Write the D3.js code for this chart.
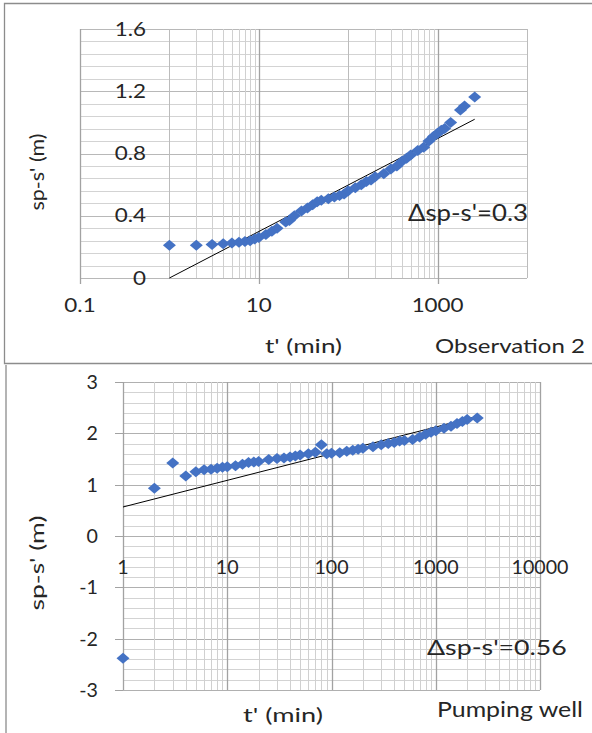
<!DOCTYPE html>
<html><head><meta charset="utf-8">
<script src="https://cdn.jsdelivr.net/npm/d3@7/dist/d3.min.js"></script>
<style>
html,body{margin:0;padding:0;background:#fff;}
svg{display:block;}
text{font-family:Lato,"Open Sans",sans-serif;fill:#262626;}
</style>
</head><body>
<svg id="c" width="592" height="733"></svg>
<script>
// ---------- Observation 2 (top) ----------
const obsTimes  = [1,2,3,4,5,6,7,8,9,10,12,14,16,20,22,25,30,35,40,45,50,60,70,80,90,100,120,140,160,180,200,250,300,350,400,450,500,600,700,800,900,1000,1100,1200,1400,1800,2000,2600];
const obsValues = [0.21,0.21,0.215,0.22,0.225,0.23,0.235,0.24,0.25,0.26,0.28,0.30,0.32,0.36,0.37,0.40,0.43,0.45,0.47,0.49,0.50,0.51,0.52,0.53,0.54,0.56,0.58,0.60,0.62,0.63,0.65,0.67,0.70,0.72,0.75,0.77,0.79,0.82,0.84,0.88,0.91,0.93,0.95,0.96,1.00,1.08,1.105,1.163];
const obsTrendTimes  = [1, 2600];
const obsTrendValues = [0, 1.02];
const obsXTickLabels = ["0.1","10","1000"];
const obsYTickLabels = ["0","0.4","0.8","1.2","1.6"];
const obsNote = "\u0394sp-s'=0.3";
const obsName = "Observation 2";

// ---------- Pumping well (bottom) ----------
const pumpTimes  = [1,2,3,4,5,6,7,8,9,10,12,14,16,18,20,25,30,35,40,45,50,60,70,80,90,100,120,140,160,180,200,250,300,350,400,450,500,600,700,800,900,1000,1200,1400,1600,1800,2000,2500];
const pumpValues = [-2.38,0.93,1.42,1.17,1.25,1.29,1.30,1.32,1.34,1.35,1.37,1.40,1.43,1.44,1.45,1.49,1.51,1.52,1.54,1.56,1.58,1.60,1.63,1.78,1.60,1.61,1.62,1.65,1.67,1.69,1.71,1.74,1.78,1.80,1.82,1.85,1.86,1.88,1.93,1.98,2.02,2.05,2.10,2.14,2.19,2.23,2.27,2.30];
const pumpTrendTimes  = [1, 2500];
const pumpTrendValues = [0.565, 2.33];
const pumpXTickLabels = ["1","10","100","1000","10000"];
const pumpYTickLabels = ["-3","-2","-1","0","1","2","3"];
const pumpNote = "\u0394sp-s'=0.56";
const pumpName = "Pumping well";

const xTitle = "t' (min)";
const yTitle = "sp-s'  (m)";

const svg = d3.select("#c");
const BLUE = "#4472C4";

// helpers
function txt(g, s, size, anchor){
  return g.append("text").text(s).attr("font-size", size).attr("text-anchor", anchor||"start");
}
function fitScale(t, target){ return target / t.node().getComputedTextLength(); }
function place(t, x, y, sx, rot){
  t.attr("transform", `translate(${x},${y})${rot ? " rotate(-90)" : ""} scale(${sx},1)`);
}
function diamond(w, h){ return `M0,${-h}L${w},0L0,${h}L${-w},0Z`; }

function drawPanel(c){
  const g = svg.append("g");
  const x = d3.scaleLog().domain(c.xDomain).range(c.xRange);
  const y = d3.scaleLinear().domain(c.yDomain).range(c.yRange);
  const [x0, x1] = c.xRange, [y0, y1] = c.yRange; // y0 bottom, y1 top
  const cr = v => Math.round(v) + 0.5;

  // horizontal gridlines
  const hVals = d3.range(c.yDomain[0], c.yDomain[1] + c.yMinor/2, c.yMinor);
  g.selectAll(null).data(hVals).enter().append("line")
    .attr("x1", x0).attr("x2", x1)
    .attr("y1", d => cr(y(d))).attr("y2", d => cr(y(d)))
    .attr("stroke", d => c.yLabelVals.some(v => Math.abs(v - d) < 1e-6) ? c.hMajorColor : "#d3d3d3")
    .attr("stroke-width", 1);

  // vertical minor gridlines
  g.selectAll(null).data(c.vMinor).enter().append("line")
    .attr("x1", d => cr(x(d))).attr("x2", d => cr(x(d)))
    .attr("y1", y1).attr("y2", y0)
    .attr("stroke", "#d0d0d0").attr("stroke-width", 1);
  // vertical decade gridlines
  g.selectAll(null).data(c.vDecade).enter().append("line")
    .attr("x1", d => cr(x(d))).attr("x2", d => cr(x(d)))
    .attr("y1", y1).attr("y2", y0)
    .attr("stroke", d => c.xLabelVals.includes(d) ? "#a2a2a2" : "#bcbcbc")
    .attr("stroke-width", d => c.xLabelVals.includes(d) ? 1.3 : 1);

  // tick marks
  if (c.xTickMarks){
    g.selectAll(null).data(c.xLabelVals).enter().append("line")
      .attr("x1", d => cr(x(d))).attr("x2", d => cr(x(d)))
      .attr("y1", y(c.xAxisAt)).attr("y2", y(c.xAxisAt) + 6)
      .attr("stroke", "#a2a2a2").attr("stroke-width", 1.3);
  }
  if (c.yTickMarks){
    g.selectAll(null).data(c.yLabelVals).enter().append("line")
      .attr("x1", x0 - 8).attr("x2", x0)
      .attr("y1", d => cr(y(d))).attr("y2", d => cr(y(d)))
      .attr("stroke", "#a2a2a2").attr("stroke-width", 1);
  }

  // trend line
  g.append("path")
    .datum(c.trendT.map((t, i) => [t, c.trendV[i]]))
    .attr("d", d3.line().x(d => x(d[0])).y(d => y(d[1])))
    .attr("fill", "none").attr("stroke", "#000").attr("stroke-width", 1);

  // points
  g.selectAll(null).data(c.times.map((t, i) => [t, c.values[i]])).enter().append("path")
    .attr("d", diamond(6.5, 5.5))
    .attr("transform", d => `translate(${x(d[0])},${y(d[1])})`)
    .attr("fill", BLUE);

  // tick labels
  const ref = txt(g, c.refLabel, c.tickSize, "middle");
  const sx = fitScale(ref, c.refWidth);
  ref.remove();
  c.xLabels.forEach((s, i) => {
    const t = txt(g, s, c.tickSize, "middle");
    place(t, x(c.xLabelVals[i]), c.xLabelBase, sx);
  });
  c.yLabels.forEach((s, i) => {
    const t = txt(g, s, c.tickSize, "end");
    place(t, c.yLabelRight, y(c.yLabelVals[i]) + c.tickSize * 0.36, sx);
  });

  // note
  const n = txt(g, c.note, c.noteSize, "start");
  place(n, c.notePos[0], c.notePos[1], fitScale(n, c.notePos[2]));
  // x title
  const xt = txt(g, xTitle, c.titleSize, "start");
  place(xt, c.xTitlePos[0], c.xTitlePos[1], fitScale(xt, c.xTitlePos[2]));
  // name
  const nm = txt(g, c.name, c.nameSize, "start");
  place(nm, c.namePos[0], c.namePos[1], fitScale(nm, c.namePos[2]));
  // y title rotated
  const yt = txt(g, yTitle, c.titleSize, "middle");
  place(yt, c.yTitlePos[0], c.yTitlePos[1], fitScale(yt, c.yTitlePos[2]), true);
}

drawPanel({
  xDomain: [0.1, 10000], xRange: [80, 527],
  yDomain: [0, 1.6], yRange: [278, 29], yMinor: 0.08,
  hMajorColor: "#b8b8b8",
  vDecade: [0.1, 1, 10, 100, 1000, 10000],
  vMinor: [2,3,4,5,6,7,8,9,200,300,400,500,600,700,800,900],
  xLabelVals: [0.1, 10, 1000], xLabels: obsXTickLabels,
  yLabelVals: [0, 0.4, 0.8, 1.2, 1.6], yLabels: obsYTickLabels,
  xAxisAt: 0, xTickMarks: true, yTickMarks: false,
  times: obsTimes, values: obsValues, trendT: obsTrendTimes, trendV: obsTrendValues,
  tickSize: 18.5, refLabel: "1000", refWidth: 52,
  xLabelBase: 312, yLabelRight: 146,
  note: obsNote, noteSize: 23, notePos: [408, 221, 120],
  titleSize: 18.5, nameSize: 18.5, xTitlePos: [265, 353, 77], name: obsName, namePos: [435, 353, 150],
  yTitlePos: [44, 172, 77]
});

drawPanel({
  xDomain: [1, 10000], xRange: [123, 540],
  yDomain: [-3, 3], yRange: [690, 382], yMinor: 0.2,
  hMajorColor: "#b0b0b0",
  vDecade: [1, 10, 100, 1000, 10000],
  vMinor: [2,3,4,5,6,7,8,9,20,30,40,50,60,70,80,90,200,300,400,500,600,700,800,900,2000,3000,4000,5000,6000,7000,8000,9000],
  xLabelVals: [1, 10, 100, 1000, 10000], xLabels: pumpXTickLabels,
  yLabelVals: [-3, -2, -1, 0, 1, 2, 3], yLabels: pumpYTickLabels,
  xAxisAt: 0, xTickMarks: false, yTickMarks: true,
  times: pumpTimes, values: pumpValues, trendT: pumpTrendTimes, trendV: pumpTrendValues,
  tickSize: 19.5, refLabel: "10000", refWidth: 57,
  xLabelBase: 574, yLabelRight: 98,
  note: pumpNote, noteSize: 21, notePos: [427, 655, 140],
  titleSize: 20, nameSize: 21.5, xTitlePos: [243, 722, 80], name: pumpName, namePos: [437, 717, 146],
  yTitlePos: [44, 563, 95]
});

// frames
const frame = svg.append("g").attr("stroke", "#8c8c8c").attr("stroke-width", 1.3).attr("fill", "none");
frame.append("path").attr("d", "M592,3.5H4.5V363.5H592");
frame.append("path").attr("d", "M6,365V733");
</script>
</body></html>
